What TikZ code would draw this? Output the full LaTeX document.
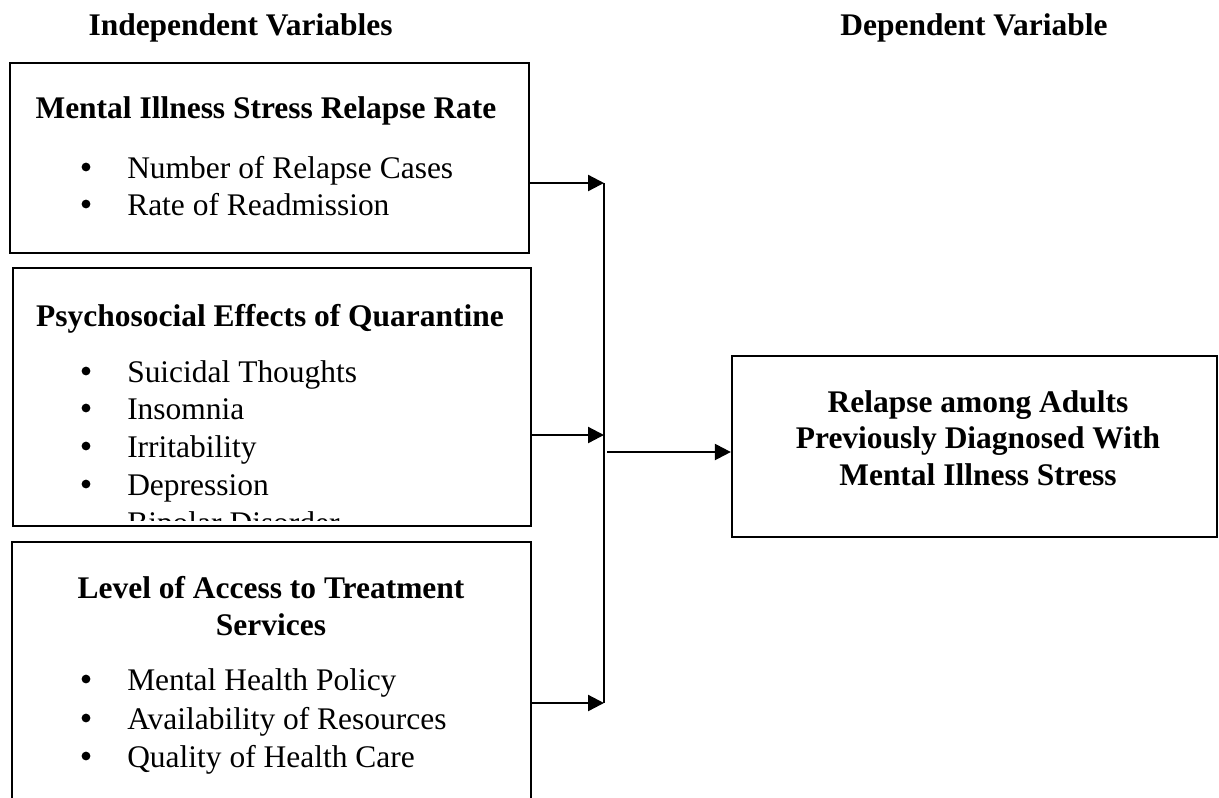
\documentclass[tikz,border=0pt]{standalone}
\usepackage{fontspec}
\setmainfont{Liberation Serif}
\usetikzlibrary{arrows.meta,fit}
\begin{document}
\begin{tikzpicture}[x=0.75pt,y=-0.75pt,
  box/.style={draw, line width=1.7pt, inner sep=0pt},
  txt/.style={inner sep=0pt, font=\fontsize{23.6pt}{28pt}\selectfont},
  ttl/.style={inner sep=0pt, anchor=base, font=\fontsize{23.6pt}{28pt}\selectfont\bfseries},
  itm/.style={txt, anchor=base west},
  conn/.style={line width=1.7pt, -{Triangle[length=12pt,width=12pt]}},
  bus/.style={line width=1.2pt},
  dot/.style={fill=black}]
\useasboundingbox (0,0) rectangle (1219,797);
\clip (0,0) rectangle (1219,797);

% headings
\node[ttl] (h1) at (240.5,35) {Independent Variables};
\node[ttl] (h2) at (974,35) {Dependent Variable};

% boxes
\node[box, fit={(10,63) (529,253)}] (b1) {};
\node[box, fit={(13,268) (531,526)}] (b2) {};
\node[box, fit={(12,542) (531,830)}] (b3) {};
\node[box, fit={(732,356) (1217,537)}] (b4) {};

% box 1 text
\node[ttl] (t1) at (266,118) {Mental Illness Stress Relapse Rate};
\node[itm] (t1a) at (127,178) {Number of Relapse Cases};
\node[itm] (t1b) at (127,215) {Rate of Readmission};

% box 2 text (clipped)
\begin{scope}
\clip (13,268) rectangle (531,520);
\node[ttl] (t2) at (270,326) {Psychosocial Effects of Quarantine};
\node[itm] (t2a) at (127,382) {Suicidal Thoughts};
\node[itm] (t2b) at (127,419) {Insomnia};
\node[itm] (t2c) at (127,457) {Irritability};
\node[itm] (t2d) at (127,495) {Depression};
\node[itm] (t2e) at (127,533) {Bipolar Disorder};
\end{scope}

% box 3 text
\node[ttl] (t3) at (271,598) {Level of Access to Treatment};
\node[ttl] (t3s) at (271,635) {Services};
\node[itm] (t3a) at (127,690) {Mental Health Policy};
\node[itm] (t3b) at (127,729) {Availability of Resources};
\node[itm] (t3c) at (127,767) {Quality of Health Care};

\foreach \n in {t1a,t1b,t2a,t2b,t2c,t2d,t3a,t3b,t3c}
  \fill[dot] ([shift={(-41,-11)}]\n.base west) circle[radius=3.3pt];

% box 4 text
\node[ttl] (t4a) at (978,412) {Relapse among Adults};
\node[ttl] (t4b) at (978,448) {Previously Diagnosed With};
\node[ttl] (t4c) at (978,485) {Mental Illness Stress};

% connectors
\coordinate (j1) at (604,183);
\coordinate (j2) at (604,435);
\coordinate (j3) at (604,703);
\coordinate (jr) at (607,452);
\draw[bus] (j1) -- (j3);
\draw[conn] (b1.east |- j1) -- (j1);
\draw[conn] (b2.east |- j2) -- (j2);
\draw[conn] (b3.east |- j3) -- (j3);
\draw[conn] (jr) -- (b4.west |- jr);
\end{tikzpicture}
\end{document}
